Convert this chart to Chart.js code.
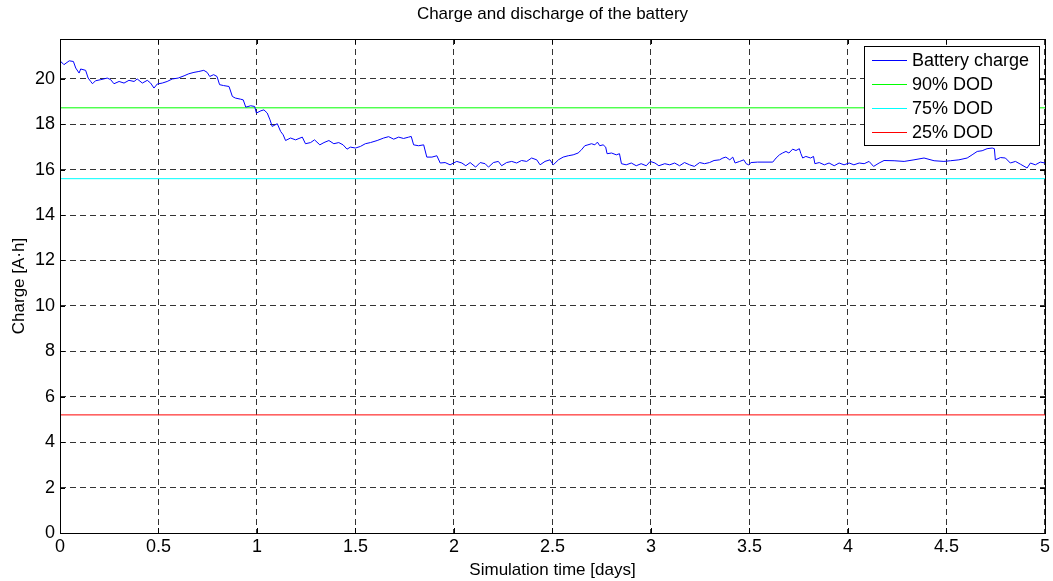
<!DOCTYPE html>
<html>
<head>
<meta charset="utf-8">
<title>Charge and discharge of the battery</title>
<script src="https://cdn.jsdelivr.net/npm/chart.js@4/dist/chart.umd.min.js"></script>
<style>
  html, body { margin: 0; padding: 0; background: #fff; }
  #wrap { width: 1053px; height: 581px; }
</style>
</head>
<body>
<div id="wrap"><canvas id="chart" width="1053" height="581"></canvas></div>
<script>
// battery state over the simulated period
const DAYS = [
  0, 0.004, 0.02, 0.047, 0.068, 0.08, 0.097, 0.105, 0.13, 0.143, 0.156, 0.165, 0.18, 0.207, 0.24,
  0.257, 0.274, 0.30, 0.325, 0.35, 0.376, 0.392, 0.418, 0.443, 0.46, 0.477, 0.494, 0.519, 0.544,
  0.57, 0.60, 0.63, 0.654, 0.68, 0.705, 0.73, 0.747, 0.76, 0.78, 0.797, 0.81, 0.83, 0.858, 0.875,
  0.89, 0.917, 0.93, 0.943, 0.968, 0.988, 0.997, 1.02, 1.035, 1.052, 1.066, 1.077, 1.103, 1.12,
  1.133, 1.145, 1.17, 1.196, 1.23, 1.246, 1.272, 1.292, 1.319, 1.34, 1.365, 1.39, 1.415, 1.437,
  1.457, 1.474, 1.50, 1.525, 1.55, 1.576, 1.61, 1.643, 1.668, 1.694, 1.719, 1.744, 1.77, 1.783,
  1.795, 1.82, 1.846, 1.862, 1.888, 1.913, 1.93, 1.955, 1.98, 2.014, 2.04, 2.06, 2.082, 2.11,
  2.133, 2.158, 2.175, 2.20, 2.225, 2.242, 2.267, 2.293, 2.318, 2.343, 2.369, 2.394, 2.42, 2.437,
  2.462, 2.487, 2.504, 2.53, 2.554, 2.58, 2.605, 2.63, 2.647, 2.664, 2.68, 2.698, 2.715, 2.728,
  2.74, 2.757, 2.77, 2.777, 2.80, 2.824, 2.84, 2.85, 2.874, 2.90, 2.925, 2.95, 2.976, 2.996, 3.02,
  3.04, 3.07, 3.095, 3.12, 3.145, 3.17, 3.196, 3.22, 3.247, 3.272, 3.297, 3.32, 3.348, 3.365, 3.38,
  3.40, 3.415, 3.427, 3.45, 3.471, 3.483, 3.496, 3.508, 3.54, 3.618, 3.635, 3.652, 3.668, 3.685,
  3.70, 3.719, 3.736, 3.753, 3.761, 3.77, 3.786, 3.81, 3.825, 3.832, 3.854, 3.88, 3.904, 3.93,
  3.955, 3.98, 4.006, 4.03, 4.057, 4.082, 4.107, 4.13, 4.158, 4.183, 4.234, 4.285, 4.335, 4.386,
  4.437, 4.487, 4.52, 4.563, 4.605, 4.63, 4.656, 4.681, 4.706, 4.732, 4.743, 4.748, 4.774, 4.799,
  4.824, 4.85, 4.875, 4.909, 4.926, 4.951, 4.976, 5.0
];
const CHARGE = [
  20.70, 20.76, 20.62, 20.79, 20.76, 20.47, 20.25, 20.43, 20.37, 20.03, 19.88, 19.78, 19.91, 19.96, 20.03,
  19.96, 19.78, 19.88, 19.81, 19.93, 19.88, 19.99, 19.81, 19.93, 19.81, 19.59, 19.77, 19.81, 19.88,
  19.99, 20.03, 20.13, 20.22, 20.28, 20.32, 20.37, 20.28, 20.10, 20.18, 20.10, 19.74, 19.70, 19.66, 19.22,
  19.15, 19.10, 19.07, 18.75, 18.81, 18.78, 18.49, 18.59, 18.63, 18.49, 18.19, 17.90, 18.02, 17.68,
  17.53, 17.28, 17.39, 17.31, 17.43, 17.14, 17.19, 17.31, 17.09, 17.19, 17.28, 17.14, 17.19, 17.09,
  16.90, 16.99, 16.95, 17.02, 17.14, 17.19, 17.28, 17.39, 17.45, 17.34, 17.43, 17.37, 17.43, 17.46,
  17.09, 17.05, 17.09, 16.55, 16.55, 16.61, 16.29, 16.31, 16.21, 16.36, 16.29, 16.17, 16.31, 16.11,
  16.31, 16.26, 16.11, 16.31, 16.36, 16.17, 16.31, 16.36, 16.29, 16.40, 16.36, 16.51, 16.43, 16.21,
  16.36, 16.43, 16.21, 16.43, 16.55, 16.61, 16.65, 16.73, 16.87, 17.05, 17.09, 17.14, 17.09, 17.21,
  17.05, 17.09, 16.99, 16.70, 16.73, 16.65, 16.70, 16.26, 16.21, 16.29, 16.17, 16.26, 16.17, 16.36, 16.29,
  16.17, 16.26, 16.21, 16.29, 16.17, 16.31, 16.21, 16.14, 16.31, 16.26, 16.31, 16.40, 16.43, 16.51, 16.55,
  16.43, 16.55, 16.29, 16.36, 16.43, 16.26, 16.21, 16.31, 16.33, 16.33, 16.51, 16.65, 16.73, 16.80,
  16.73, 16.90, 16.84, 16.92, 16.70, 16.51, 16.58, 16.51, 16.58, 16.26, 16.31, 16.21, 16.29, 16.17,
  16.29, 16.21, 16.29, 16.21, 16.29, 16.26, 16.36, 16.14, 16.29, 16.40, 16.39, 16.36, 16.43, 16.51,
  16.39, 16.36, 16.39, 16.43, 16.51, 16.65, 16.80, 16.83, 16.92, 16.95, 16.92, 16.43, 16.53, 16.51,
  16.29, 16.36, 16.24, 16.07, 16.29, 16.21, 16.33, 16.29
];

// depth-of-discharge thresholds (A·h)
const DOD_LABELS = ['90% DOD', '75% DOD', '25% DOD'];
const DOD_LEVELS = [18.72, 15.6, 5.2];
const DOD_COLORS = ['#00ff00', '#00ffff', '#ff0000'];

const X_TICKS = [0, 0.5, 1, 1.5, 2, 2.5, 3, 3.5, 4, 4.5, 5];
const Y_TICKS = [0, 2, 4, 6, 8, 10, 12, 14, 16, 18, 20];
const Y_MAX = 21.75;

const FONT = '"Liberation Sans", Arial, Helvetica, sans-serif';
const TXT = '#000';
const LINE_BLUE = '#0000ff';

const datasets = [{
  label: 'Battery charge',
  data: DAYS.map((d, i) => ({ x: d, y: CHARGE[i] })),
  borderColor: LINE_BLUE,
  borderWidth: 1,
  pointRadius: 0,
  tension: 0,
}].concat(DOD_LEVELS.map((lvl, i) => ({
  label: DOD_LABELS[i],
  data: [{ x: X_TICKS[0], y: lvl }, { x: X_TICKS[X_TICKS.length - 1], y: lvl }],
  borderColor: DOD_COLORS[i],
  borderWidth: 1,
  pointRadius: 0,
})))

const LEGEND_COLORS = [LINE_BLUE].concat(DOD_COLORS)
const LEGEND_LABELS = ['Battery charge'].concat(DOD_LABELS)

// axes box, inward tick marks, title and the boxed legend
const matlabFrame = {
  id: 'matlabFrame',
  afterDraw(chart) {
    const { ctx, chartArea: a, scales: { x, y } } = chart
    ctx.save()
    ctx.fillStyle = '#000'
    const L = Math.round(a.left), R = Math.round(a.right)
    const T = Math.round(a.top), B = Math.round(a.bottom)
    const tl = 5
    X_TICKS.forEach(v => {
      const px = Math.round(x.getPixelForValue(v))
      ctx.fillRect(px, B - tl, 1, tl)
      ctx.fillRect(px, T, 1, tl)
    })
    Y_TICKS.forEach(v => {
      const py = Math.round(y.getPixelForValue(v))
      ctx.fillRect(L, py, tl, 1)
      ctx.fillRect(R - tl, py, tl, 1)
    })
    // box
    ctx.fillRect(L, T, R - L + 1, 1)
    ctx.fillRect(L, B, R - L + 1, 1)
    ctx.fillRect(L, T, 1, B - T + 1)
    ctx.fillRect(R, T, 1, B - T + 1)

    // title
    ctx.fillStyle = TXT
    ctx.font = '17px ' + FONT
    ctx.textAlign = 'center'
    ctx.textBaseline = 'middle'
    ctx.fillText('Charge and discharge of the battery', (a.left + a.right) / 2, 14)

    // legend
    const lw = 175, lh = 99
    const lx = R - 6 - lw
    const ly = T + 7
    ctx.fillStyle = '#fff'
    ctx.fillRect(lx, ly, lw, lh)
    ctx.fillStyle = '#000'
    ctx.fillRect(lx, ly, lw + 1, 1)
    ctx.fillRect(lx, ly + lh, lw + 1, 1)
    ctx.fillRect(lx, ly, 1, lh + 1)
    ctx.fillRect(lx + lw, ly, 1, lh + 1)
    ctx.font = '18px ' + FONT
    ctx.textAlign = 'left'
    LEGEND_LABELS.forEach((label, i) => {
      const ry = ly + 14 + i * 24
      ctx.fillStyle = LEGEND_COLORS[i]
      ctx.fillRect(lx + 8, ry, 35, 1)
      ctx.fillStyle = TXT
      ctx.fillText(label, lx + 48, ry + 1)
    })
    ctx.restore()
  }
}

new Chart(document.getElementById('chart'), {
  type: 'line',
  data: { datasets },
  plugins: [matlabFrame],
  options: {
    responsive: false,
    animation: false,
    events: [],
    layout: { padding: { top: 39, right: 5, bottom: 0, left: 0 } },
    plugins: {
      legend: { display: false },
      title: { display: false },
      tooltip: { enabled: false },
    },
    scales: {
      x: {
        type: 'linear',
        min: 0,
        max: 5,
        afterBuildTicks: s => { s.ticks = X_TICKS.map(v => ({ value: v })) },
        afterFit: s => { s.height = 48 },
        ticks: {
          color: TXT,
          font: { family: FONT, size: 18 },
          padding: 3,
          maxRotation: 0,
          callback: v => String(v),
        },
        grid: { color: 'rgba(0,0,0,0.8)', lineWidth: 1, drawTicks: false },
        border: { display: false, dash: [6, 4] },
        title: {
          display: true,
          text: 'Simulation time [days]',
          color: TXT,
          font: { family: FONT, size: 17 },
          padding: { top: 0, bottom: 0 },
        },
      },
      y: {
        min: 0,
        max: Y_MAX,
        afterBuildTicks: s => { s.ticks = Y_TICKS.map(v => ({ value: v })) },
        afterFit: s => { s.width = 60 },
        ticks: {
          color: TXT,
          font: { family: FONT, size: 18 },
          padding: 5,
        },
        grid: { color: 'rgba(0,0,0,0.8)', lineWidth: 1, drawTicks: false },
        border: { display: false, dash: [6, 4] },
        title: {
          display: true,
          text: 'Charge [A·h]',
          color: TXT,
          font: { family: FONT, size: 17 },
          padding: { top: 9, bottom: 0 },
        },
      },
    },
  },
})
</script>
</body>
</html>
